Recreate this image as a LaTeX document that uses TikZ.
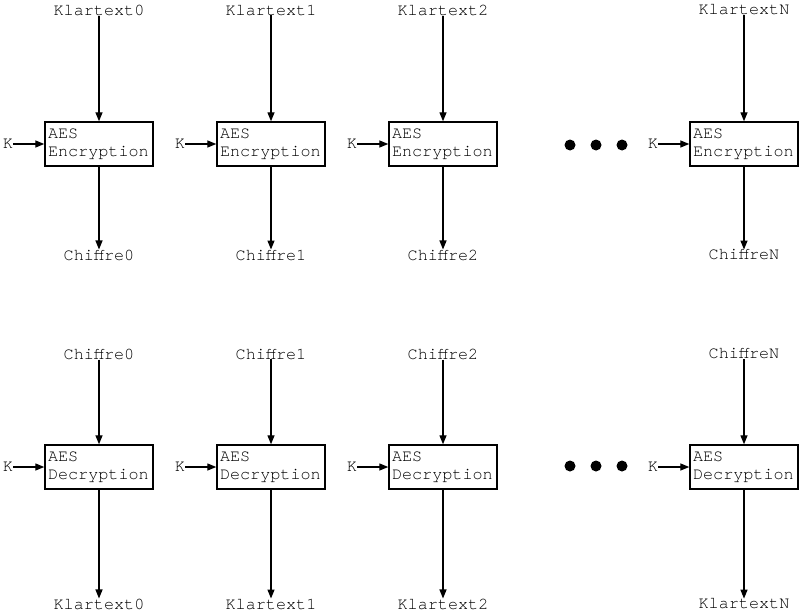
\documentclass[tikz,border=0pt]{standalone}
\usepackage{fontspec}
\setmonofont{texgyrecursor-regular.otf}
\usetikzlibrary{arrows.meta}
\begin{document}
\begin{tikzpicture}[x=1pt,y=-1pt,
  every node/.style={font=\fontsize{16.8}{18.5}\selectfont\ttfamily, inner sep=0pt},
  aesbox/.style={draw, line width=1.4pt, minimum width=108pt, minimum height=44pt,
    text width=102pt, align=left, inner sep=3pt},
  lbl/.style={anchor=center},
  conn/.style={line width=1.3pt, -{Triangle[length=9pt,width=7pt]}},
  dotc/.style={fill=black, circle, minimum size=11pt, inner sep=0pt}]
\useasboundingbox (0,0) rectangle (800,615);
% top row
\foreach \i/\x/\n in {0/99/0,1/271/1,2/443/2,3/744/N}{
  \node[aesbox] (e\i) at (\x,144) {AES\\Encryption};
  \node[lbl] (pt\i) at (\x,10) {Klartext\n};
  \node[lbl] (ct\i) at (\x,255) {Chiffre\n};
  \node[lbl] (ke\i) at (\x-91,144) {K\hspace{3pt}};
  \draw[conn] (pt\i) -- (e\i);
  \draw[conn] (e\i) -- (ct\i);
  \draw[conn] (ke\i) -- (e\i);
  % bottom row
  \node[aesbox] (d\i) at (\x,467) {AES\\Decryption};
  \node[lbl] (ci\i) at (\x,354) {Chiffre\n};
  \node[lbl] (po\i) at (\x,604) {Klartext\n};
  \node[lbl] (kd\i) at (\x-91,467) {K\hspace{3pt}};
  \draw[conn] (ci\i) -- (d\i);
  \draw[conn] (d\i) -- (po\i);
  \draw[conn] (kd\i) -- (d\i);
}
\foreach \y/\r in {145/a,466/b}{
  \node[dotc] (\r1) at (570,\y) {};
  \node[dotc] (\r2) at (596,\y) {};
  \node[dotc] (\r3) at (622,\y) {};
}
\end{tikzpicture}
\end{document}
